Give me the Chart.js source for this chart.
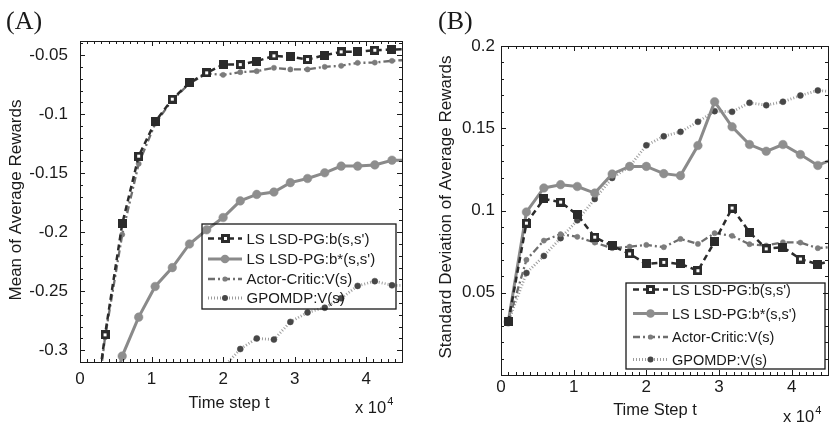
<!DOCTYPE html>
<html><head><meta charset="utf-8">
<script src="https://cdn.jsdelivr.net/npm/chart.js@4.4.0/dist/chart.umd.min.js"></script>
<style>
html,body{margin:0;padding:0;background:#fff;overflow:hidden;width:829px;height:433px;position:relative;}
#ca{position:absolute;left:0;top:0;}
#cb{position:absolute;left:415px;top:0;}
</style></head><body>
<canvas id="ca" width="415" height="433"></canvas>
<canvas id="cb" width="420" height="433"></canvas>
<script>
// ---- data (time in units of 10^4 steps) ----
const timeSteps = [0.1,0.35,0.59,0.82,1.05,1.29,1.53,1.77,2.0,2.24,2.47,2.71,2.94,3.18,3.42,3.65,3.88,4.12,4.36,4.6];
const xTicks = [0,1,2,3,4];
const meanTicks = [-0.3,-0.25,-0.2,-0.15,-0.1,-0.05];
const stdTicks = [0.05,0.1,0.15,0.2];
const seriesNames = ["LS LSD-PG:b(s,s')","LS LSD-PG:b*(s,s')","Actor-Critic:V(s)","GPOMDP:V(s)"];

// (A) mean of average rewards
const meanLSb     = [-0.40,-0.287,-0.193,-0.1356,-0.1065,-0.0873,-0.0735,-0.065,-0.0579,-0.058,-0.0551,-0.0506,-0.0514,-0.0537,-0.05,-0.0472,-0.0472,-0.0458,-0.0452,-0.045];
const meanLSbStar = [-0.42,-0.36,-0.305,-0.272,-0.246,-0.230,-0.210,-0.198,-0.1876,-0.1735,-0.168,-0.166,-0.158,-0.1545,-0.1497,-0.144,-0.144,-0.143,-0.139,-0.139];
const meanAC      = [-0.41,-0.289,-0.202,-0.142,-0.108,-0.088,-0.074,-0.0655,-0.0667,-0.0644,-0.0636,-0.0607,-0.0621,-0.0621,-0.0599,-0.059,-0.0565,-0.0563,-0.0548,-0.054];
const meanGPOMDP  = [-0.50,-0.47,-0.44,-0.41,-0.39,-0.37,-0.35,-0.335,-0.315,-0.299,-0.290,-0.291,-0.276,-0.268,-0.264,-0.256,-0.2455,-0.2415,-0.245,-0.245];

// (B) standard deviation of average rewards
const stdLSb     = [0.0323,0.0923,0.1071,0.1051,0.0974,0.0838,0.0785,0.0736,0.0675,0.0685,0.0675,0.0634,0.0811,0.1015,0.0868,0.0767,0.0777,0.0705,0.0673,0.070];
const stdLSbStar = [0.0323,0.0991,0.1137,0.1157,0.1146,0.1106,0.1222,0.1268,0.1268,0.1224,0.1212,0.1395,0.1661,0.1509,0.1401,0.136,0.1401,0.134,0.1274,0.132];
const stdAC      = [0.0323,0.070,0.0817,0.0856,0.084,0.0805,0.0771,0.078,0.0791,0.0777,0.0827,0.0797,0.0862,0.0846,0.0795,0.0787,0.0807,0.0805,0.0771,0.078];
const stdGPOMDP  = [0.0323,0.0620,0.0724,0.0832,0.094,0.107,0.1198,0.1268,0.1396,0.1451,0.1478,0.1539,0.1604,0.160,0.1655,0.164,0.1661,0.1699,0.173,0.172];

// ---- styles ----
const FONT = "'Liberation Sans', Arial, Helvetica, sans-serif";
const INK = '#1a1a1a';
function sqImg(open){
  const c=document.createElement('canvas'); c.width=9; c.height=9;
  const g=c.getContext('2d'); g.fillStyle='#2b2b2b'; g.fillRect(0,0,9,9);
  if(open){ g.fillStyle='#ffffff'; g.fillRect(3,3,3,3); }
  return c;
}
const SQ_FILLED = sqImg(false), SQ_OPEN = sqImg(true);
const STYLES = [
  {color:'#2b2b2b', width:2.5, dash:[6,4], marker:'sq'},
  {color:'#8a8a8a', width:3, dash:[], marker:'circle', r:4.3, fill:'#8e8e8e'},
  {color:'#6e6e6e', width:2.3, dash:[7,3,2,3], marker:'circle', r:2.6, fill:'#7c7c7c'},
  {color:'#9c9c9c', width:2.8, dash:[1,2], marker:'circle', r:3, fill:'#474747'}
];

function makeDataset(i, values){
  const s = STYLES[i];
  const ds = {
    label: seriesNames[i],
    data: timeSteps.map((x,k)=>({x:x, y:values[k]})),
    borderColor: s.color, borderWidth: s.width, borderDash: s.dash,
    tension: 0, fill: false
  };
  if(s.marker==='sq'){
    ds.pointStyle = (c)=> (c.dataIndex%2 ? SQ_OPEN : SQ_FILLED);
    ds.pointRadius = 4.5;
  } else {
    ds.pointStyle = 'circle'; ds.pointRadius = s.r;
    ds.pointBackgroundColor = s.fill; ds.pointBorderColor = s.fill; ds.pointBorderWidth = 0.5;
  }
  return ds;
}

function fmt(v){ return String(+(+v).toFixed(2)); }

function decorPlugin(cfg){
  return {
    id:'decor',
    afterDatasetsDraw(chart){
      const ctx=chart.ctx, a=chart.chartArea, xs=chart.scales.x, ys=chart.scales.y;
      ctx.save();
      ctx.strokeStyle=INK; ctx.lineWidth=1;
      ctx.strokeRect(Math.round(a.left)+0.5, Math.round(a.top)+0.5, Math.round(a.right-a.left), Math.round(a.bottom-a.top));
      ctx.beginPath();
      for(let i=0;i<=Math.round(xs.max/cfg.xMinor);i++){
        const v=i*cfg.xMinor; const p=Math.round(xs.getPixelForValue(v))+0.5;
        const major = Math.abs(v-Math.round(v))<1e-6; const L = major?5:3;
        ctx.moveTo(p,a.bottom); ctx.lineTo(p,a.bottom-L);
        ctx.moveTo(p,a.top); ctx.lineTo(p,a.top+L);
      }
      const start = Math.ceil(ys.min/cfg.yMinor-1e-6);
      for(let i=start;i*cfg.yMinor<=ys.max+1e-9;i++){
        const v=i*cfg.yMinor; const p=Math.round(ys.getPixelForValue(v))+0.5;
        const major = Math.abs(v/0.05-Math.round(v/0.05))<1e-6; const L=major?5:3;
        ctx.moveTo(a.left,p); ctx.lineTo(a.left+L,p);
        ctx.moveTo(a.right,p); ctx.lineTo(a.right-L,p);
      }
      ctx.stroke();
      ctx.restore();
    },
    afterDraw(chart){
      const ctx=chart.ctx, o=cfg.offset;
      ctx.save();
      ctx.fillStyle=INK;
      ctx.font="26px 'Liberation Serif', 'Times New Roman', serif";
      ctx.textAlign='left'; ctx.textBaseline='alphabetic';
      ctx.fillText(cfg.letter, cfg.letterX-o, 29);
      ctx.font="16.5px "+FONT; ctx.textAlign='center';
      ctx.fillText(cfg.xTitle, cfg.xTitleX-o, cfg.xTitleY);
      ctx.textAlign='left';
      ctx.fillText('x 10', cfg.expX-o, cfg.expY);
      const w = ctx.measureText('x 10').width;
      ctx.font="11px "+FONT;
      ctx.fillText('4', cfg.expX-o+w+1, cfg.expY-8);
      ctx.font="17px "+FONT;
      ctx.translate(cfg.yTitleX-o, cfg.yTitleY); ctx.rotate(-Math.PI/2);
      ctx.textAlign='center'; ctx.textBaseline='middle';
      ctx.fillText(cfg.yTitle,0,0);
      ctx.restore();
      // legend (transparent box, as in the reference)
      const L=cfg.legend;
      ctx.save();
      ctx.strokeStyle=INK; ctx.lineWidth=1.3;
      ctx.strokeRect(L.x1-o, L.y1, L.x2-L.x1, L.y2-L.y1);
      chart.data.datasets.forEach((ds,i)=>{
        const s=STYLES[i]; const y=L.rows[i];
        ctx.save();
        ctx.strokeStyle=s.color; ctx.lineWidth=s.width; ctx.setLineDash(s.dash);
        ctx.beginPath(); ctx.moveTo(L.s1-o,y); ctx.lineTo(L.s2-o,y); ctx.stroke();
        ctx.restore();
        const cx=(L.s1+L.s2)/2-o;
        if(s.marker==='sq'){ ctx.drawImage(SQ_OPEN, Math.round(cx-4.5), Math.round(y-4.5)); }
        else { ctx.fillStyle=s.fill; ctx.beginPath(); ctx.arc(cx,y,s.r,0,Math.PI*2); ctx.fill(); }
        ctx.fillStyle=INK; ctx.font=L.font+"px "+FONT; ctx.textAlign='left'; ctx.textBaseline='middle';
        ctx.fillText(ds.label, L.tx-o, y+1);
      });
      ctx.restore();
    }
  };
}

function makeChart(id, cfg, seriesArrays){
  return new Chart(document.getElementById(id), {
    type:'line',
    data:{datasets: seriesArrays.map((arr,i)=>makeDataset(i,arr))},
    options:{
      responsive:false, animation:false, devicePixelRatio:1,
      layout:{padding:{left:0, right:cfg.padRight, top:cfg.top, bottom:0}},
      plugins:{legend:{display:false}, tooltip:{enabled:false}},
      scales:{
        x:{type:'linear', min:0, max:4.5,
           grid:{display:false, drawTicks:false}, border:{display:false},
           afterBuildTicks:s=>{ s.ticks = xTicks.map(v=>({value:v})); },
           afterFit:s=>{ s.height = cfg.xAxisH; },
           ticks:{padding:cfg.xPad, color:INK, font:{family:FONT,size:17}, maxRotation:0, autoSkip:false, callback:v=>fmt(v)}},
        y:{type:'linear', min:cfg.yMin, max:cfg.yMax,
           grid:{display:false, drawTicks:false}, border:{display:false},
           afterBuildTicks:s=>{ s.ticks = cfg.yTicks.map(v=>({value:v})); },
           afterFit:s=>{ s.width = cfg.yAxisW; },
           ticks:{padding:cfg.yPad, color:INK, font:{family:FONT,size:17}, autoSkip:false, callback:v=>fmt(v)}}
      }
    },
    plugins:[decorPlugin(cfg)]
  });
}

makeChart('ca', {
  offset:0, top:41, padRight:13, xAxisH:433-362, yAxisW:80, xPad:7, yPad:12,
  yMin:-0.31, yMax:-0.038, yTicks:meanTicks, xMinor:0.1, yMinor:0.01,
  letter:'(A)', letterX:6, xTitle:'Time step t', xTitleX:229, xTitleY:408,
  expX:355, expY:413, yTitle:'Mean of Average Rewards', yTitleX:16, yTitleY:200,
  legend:{x1:202, y1:224, x2:396, y2:309, rows:[238.5,259,279,298], s1:208, s2:242, tx:246.5, font:15}
}, [meanLSb, meanLSbStar, meanAC, meanGPOMDP]);

makeChart('cb', {
  offset:415, top:46, padRight:5, xAxisH:433-375, yAxisW:86, xPad:2, yPad:6,
  yMin:0, yMax:0.2, yTicks:stdTicks, xMinor:0.1, yMinor:0.01,
  letter:'(B)', letterX:438, xTitle:'Time Step t', xTitleX:655, xTitleY:415,
  expX:783, expY:421.5, yTitle:'Standard Deviation of Average Rewards', yTitleX:446, yTitleY:207,
  legend:{x1:626, y1:283, x2:825, y2:369, rows:[289.5,313.5,337,359.5], s1:633, s2:668, tx:672, font:14.5}
}, [stdLSb, stdLSbStar, stdAC, stdGPOMDP]);
</script>
</body></html>
